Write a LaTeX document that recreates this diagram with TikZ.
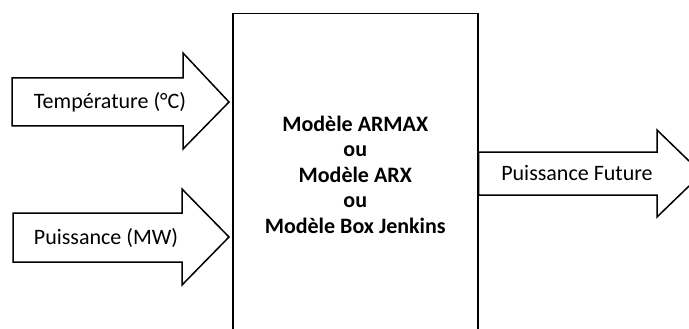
\documentclass[tikz,border=0pt]{standalone}
\usepackage{fontspec}
\setmainfont{Carlito}
\begin{document}
\begin{tikzpicture}[x=1pt,y=-1pt,
  outline/.style={draw=black,line width=1.5pt,line join=miter,fill=white},
  flowlabel/.style={font=\fontsize{22}{26}\selectfont,text=black,inner sep=0pt},
  modelbox/.style={outline,minimum width=245pt,minimum height=322pt,inner sep=0pt,
    align=center,font=\fontsize{22}{25.5}\selectfont\bfseries}]
  \useasboundingbox (0,0) rectangle (689,329);
  \clip (0,0) rectangle (689,329);

  % central model block (runs past the lower edge)
  \node[modelbox,anchor=north west] (model) at (232,13)
    {Modèle ARMAX\\ou\\Modèle ARX\\ou\\Modèle Box Jenkins};

  % input arrow: temperature
  \coordinate (tin) at (229,102);
  \draw[outline] (12,78) -- (183,78) -- (183,53) -- (tin) -- (183,149) -- (183,126) -- (12,126) -- cycle;
  \node[flowlabel] (temp) at (110,102) {Température (°C)};

  % input arrow: power
  \coordinate (pin) at (229,237);
  \draw[outline] (13,213) -- (182,213) -- (182,189) -- (pin) -- (182,285) -- (182,262) -- (13,262) -- cycle;
  \node[flowlabel] (power) at (106,237.5) {Puissance (MW)};

  % output arrow: forecast power
  \coordinate (pout) at (702,173.5);
  \draw[outline] (model.east |- 0,152) -- (657,152) -- (657,130) -- (pout) -- (657,217) -- (657,195) -- (model.east |- 0,195) -- cycle;
  \node[flowlabel] (future) at (577,173.5) {Puissance Future};
\end{tikzpicture}
\end{document}
